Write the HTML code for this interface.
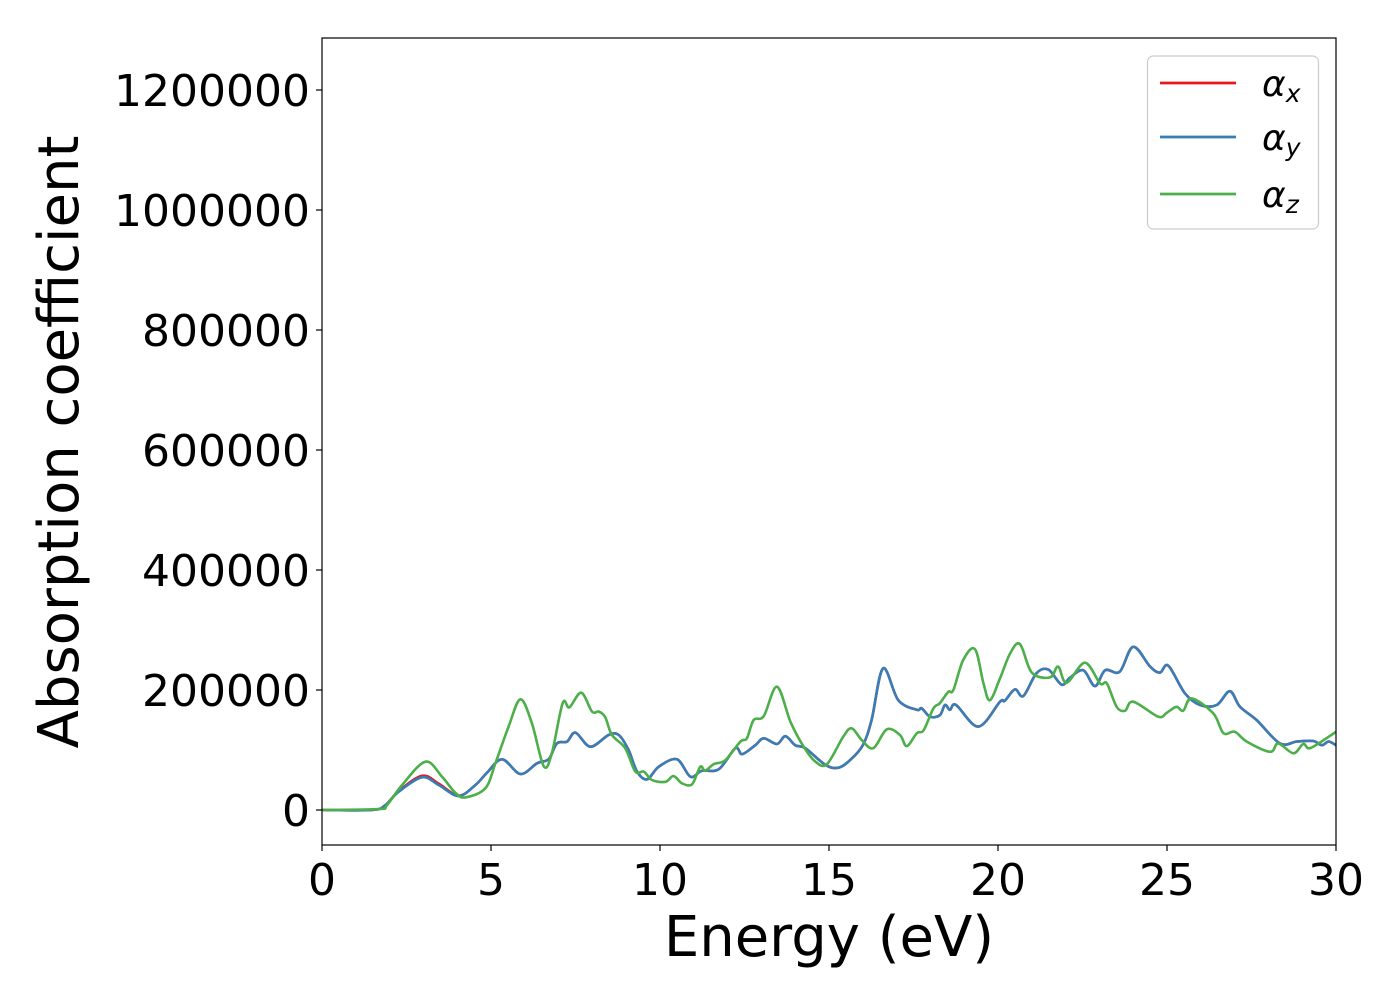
<!DOCTYPE html>
<html><head><meta charset="utf-8"><style>
html,body{margin:0;padding:0;background:#fff;}
svg{display:block;font-family:"DejaVu Sans","Liberation Sans",sans-serif;}
</style></head><body>
<svg id="chart" width="1400" height="1000" viewBox="0 0 1400 1000">
<rect x="0" y="0" width="1400" height="1000" fill="#fff"/>
<g id="series"></g>
<rect x="322" y="38" width="1014" height="807" fill="none" stroke="#000" stroke-width="1.2"/>
<g id="xticks"></g>
<g id="yticks"></g>
<text x="829" y="956" font-size="56" text-anchor="middle">Energy (eV)</text>
<text transform="translate(78,442) rotate(-90)" font-size="56" text-anchor="middle">Absorption coefficient</text>
<g>
<rect x="1147.5" y="56" width="171" height="173" rx="6" fill="#fff" stroke="#ccc" stroke-width="1.2"/>
<line x1="1160" y1="83" x2="1236" y2="83" stroke="#e41a1c" stroke-width="2.7"/>
<text x="1262" y="96" font-size="36" font-style="italic">α<tspan font-size="25" dy="6">x</tspan></text>
<line x1="1160" y1="137" x2="1236" y2="137" stroke="#377eb8" stroke-width="2.7"/>
<text x="1262" y="150" font-size="36" font-style="italic">α<tspan font-size="25" dy="6">y</tspan></text>
<line x1="1160" y1="194" x2="1236" y2="194" stroke="#4daf4a" stroke-width="2.7"/>
<text x="1262" y="207" font-size="36" font-style="italic">α<tspan font-size="25" dy="6">z</tspan></text>
</g>
</svg>
<script>
const xTickLabels = [0,5,10,15,20,25,30];
const yTickLabels = [0,200000,400000,600000,800000,1000000,1200000];
const blueE = [0,1.48,1.87,2.27,2.96,3.45,4.04,4.54,4.88,5.33,5.87,6.36,6.71,6.95,7.25,7.5,7.94,8.48,8.78,9.07,9.32,9.62,9.96,10.5,10.9,11.24,11.74,12.23,12.43,12.82,13.07,13.46,13.71,14.0,14.3,14.9,15.28,15.62,16.0,16.26,16.6,17.05,17.6,17.74,17.99,18.28,18.43,18.58,18.76,19.42,20.06,20.2,20.5,20.75,21.14,21.49,21.88,22.13,22.52,22.87,23.17,23.6,24.0,24.5,24.79,25.04,25.53,25.98,26.47,26.86,27.16,27.65,28.34,28.84,29.33,29.58,29.78,30];
const blueV = [0,0,8000,30500,54500,41700,23300,41700,62000,84500,60000,77800,85000,111000,114000,129000,105500,125000,125000,100000,64000,51000,72000,84500,55500,65500,68000,103000,93000,108000,119500,110000,123000,108000,103000,75000,70500,83000,108000,150000,236000,183000,167000,169500,155500,158000,175000,167000,175000,139000,180500,182000,201000,190000,228000,234000,209000,220500,233000,206500,233000,230500,272000,239000,229000,240500,194500,175000,175000,198000,172000,150000,111000,114000,115000,108000,114000,108000];
const redV = [0,0,8000,31500,57000,44000,24000,41700,62000,84500,60000,77800,85000,111000,114000,129000,105500,125000,125000,100000,64000,51000,72000,84500,55500,65500,68000,103000,93000,108000,119500,110000,123000,108000,103000,75000,70500,83000,108000,150000,236000,183000,167000,169500,155500,158000,175000,167000,175000,139000,180500,182000,201000,190000,228000,234000,209000,220500,233000,206500,233000,230500,272000,239000,229000,240500,194500,175000,175000,198000,172000,150000,111000,114000,115000,108000,114000,108000];
const greenE = [0,1.68,1.92,2.37,3.06,3.55,3.94,4.24,4.83,5.13,5.52,5.87,6.21,6.56,6.8,7.12,7.32,7.67,7.99,8.19,8.38,8.58,8.97,9.27,9.52,9.76,10.16,10.4,10.65,10.95,11.19,11.34,11.59,11.93,12.38,12.57,12.77,13.07,13.46,13.86,14.25,14.6,14.94,15.42,15.67,15.97,16.31,16.71,17.1,17.3,17.6,17.8,18.09,18.28,18.53,18.68,18.97,19.32,19.57,19.76,20.06,20.36,20.65,21.0,21.54,21.78,22.03,22.57,23.02,23.22,23.51,23.76,24.0,24.74,24.99,25.28,25.48,25.73,26.37,26.67,27.0,27.36,28.05,28.29,28.74,29.03,29.23,29.78,30];
const greenV = [0,1500,8000,41700,80500,55500,29000,21000,36000,77800,139000,184500,144500,73000,94500,178000,171000,195500,164000,164000,154500,125000,103000,64000,64000,50000,47000,56500,44500,43000,72000,65500,76500,83000,114000,119500,150000,156500,205500,147000,105500,80500,76500,122000,136000,116500,103000,134500,125000,106500,128000,133000,169500,178000,197000,200000,250000,268000,211000,183000,219500,261000,276500,229000,221000,239000,212000,245500,211000,211000,172000,165500,180500,155500,162000,172000,165500,186000,161000,128000,130500,114000,97000,111000,94500,110000,103000,122000,130500];

const X0=322, X1=1336, XMIN=0, XMAX=30;
const Y_TOP=38, Y_BOT=845, YMIN=-58333, YMAX=1286667;
function xs(v){return X0+(v-XMIN)/(XMAX-XMIN)*(X1-X0);}
function ys(v){return Y_BOT-(v-YMIN)/(YMAX-YMIN)*(Y_BOT-Y_TOP);}
const NS='http://www.w3.org/2000/svg';
function pathFrom(E,V){
  const p=E.map((e,i)=>[xs(e),ys(V[i])]);
  let d='M'+p[0][0].toFixed(2)+','+p[0][1].toFixed(2);
  for(let i=0;i<p.length-1;i++){
    const a=p[Math.max(i-1,0)],b=p[i],c=p[i+1],n=p[Math.min(i+2,p.length-1)];
    const c1x=b[0]+(c[0]-a[0])/6,c1y=b[1]+(c[1]-a[1])/6;
    const c2x=c[0]-(n[0]-b[0])/6,c2y=c[1]-(n[1]-b[1])/6;
    d+='C'+c1x.toFixed(2)+','+c1y.toFixed(2)+' '+c2x.toFixed(2)+','+c2y.toFixed(2)+' '+c[0].toFixed(2)+','+c[1].toFixed(2);
  }
  return d;
}
const sg=document.getElementById('series');
[[blueE,redV,'#e41a1c','series-alpha-x'],[blueE,blueV,'#377eb8','series-alpha-y'],[greenE,greenV,'#4daf4a','series-alpha-z']].forEach(s=>{
  const el=document.createElementNS(NS,'path');
  el.setAttribute('d',pathFrom(s[0],s[1]));
  el.setAttribute('fill','none');
  el.setAttribute('stroke',s[2]);
  el.setAttribute('stroke-width','2.6');
  el.setAttribute('stroke-linejoin','round');
  
  
  sg.appendChild(el);
});
const xg=document.getElementById('xticks');
xTickLabels.forEach(v=>{
  const l=document.createElementNS(NS,'line');
  l.setAttribute('x1',xs(v));l.setAttribute('x2',xs(v));l.setAttribute('y1',Y_BOT);l.setAttribute('y2',Y_BOT+6);
  l.setAttribute('stroke','#000');l.setAttribute('stroke-width','1.2');
  
  
  xg.appendChild(l);
  const t=document.createElementNS(NS,'text');
  t.setAttribute('x',xs(v));t.setAttribute('y',Y_BOT+50);t.setAttribute('font-size','44');t.setAttribute('text-anchor','middle');
  t.textContent=v;
  
  
  xg.appendChild(t);
});
const yg=document.getElementById('yticks');
yTickLabels.forEach(v=>{
  const l=document.createElementNS(NS,'line');
  l.setAttribute('x1',X0-6);l.setAttribute('x2',X0);l.setAttribute('y1',ys(v));l.setAttribute('y2',ys(v));
  l.setAttribute('stroke','#000');l.setAttribute('stroke-width','1.2');
  
  
  yg.appendChild(l);
  const t=document.createElementNS(NS,'text');
  t.setAttribute('x',X0-12);t.setAttribute('y',ys(v)+16);t.setAttribute('font-size','44');t.setAttribute('text-anchor','end');
  t.textContent=v;
  
  
  yg.appendChild(t);
});
</script>
</body></html>
